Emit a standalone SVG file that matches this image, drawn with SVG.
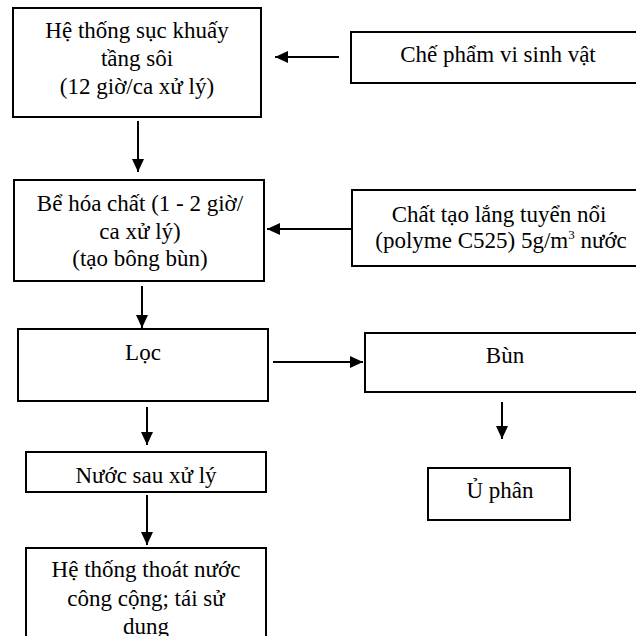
<svg xmlns="http://www.w3.org/2000/svg" width="636" height="636" viewBox="0 0 636 636">
<style>
.box{fill:#fff;stroke:#000;stroke-width:2}
.t{font-family:"Liberation Serif","Times New Roman",serif;font-size:23px;fill:#000;text-anchor:middle}
.c{stroke:#000;stroke-width:2;fill:none}
</style>
<defs>
<marker id="ah" markerUnits="userSpaceOnUse" markerWidth="14" markerHeight="12" refX="13" refY="6" orient="auto">
<path d="M0,0 L13,6 L0,12 Z" fill="#000"/>
</marker>
<clipPath id="clipN"><rect x="26" y="453" width="240" height="35"/></clipPath>
</defs>
<rect width="636" height="636" fill="#fff"/>
<g id="n1">
<rect class="box" x="13" y="8" width="248" height="109"/>
<text class="t" x="137" y="37.5">Hệ thống sục khuấy</text>
<text class="t" x="137" y="65.5">tầng sôi</text>
<text class="t" x="137" y="93.5">(12 giờ/ca xử lý)</text>
</g>
<g id="n2">
<rect class="box" x="351" y="32" width="300" height="51"/>
<text class="t" x="498" y="62">Chế phẩm vi sinh vật</text>
</g>
<g id="n3">
<rect class="box" x="14" y="180" width="250" height="101"/>
<text class="t" x="140" y="210.5">Bể hóa chất (1 - 2 giờ/</text>
<text class="t" x="140" y="238.5">ca xử lý)</text>
<text class="t" x="140" y="266">(tạo bông bùn)</text>
</g>
<g id="n4">
<rect class="box" x="352" y="190" width="300" height="76"/>
<text class="t" x="499" y="221.5">Chất tạo lắng tuyển nổi</text>
<text class="t" x="501" y="247.5">(polyme C525) 5g/m<tspan font-size="13" dy="-9">3</tspan><tspan dy="9"> nước</tspan></text>
</g>
<g id="n5">
<rect class="box" x="18" y="329" width="250" height="72"/>
<text class="t" x="143" y="360">Lọc</text>
</g>
<g id="n6">
<rect class="box" x="365" y="333" width="290" height="59"/>
<text class="t" x="505" y="363">Bùn</text>
</g>
<g id="n7">
<rect class="box" x="428" y="468" width="142" height="52"/>
<text class="t" x="500" y="498">Ủ phân</text>
</g>
<g id="n8">
<rect class="box" x="26" y="452" width="240" height="40"/>
<text class="t" x="146" y="483" clip-path="url(#clipN)">Nước sau xử lý</text>
</g>
<g id="n9">
<rect class="box" x="26" y="548" width="240" height="100"/>
<text class="t" x="146" y="577">Hệ thống thoát nước</text>
<text class="t" x="146" y="606">công cộng; tái sử</text>
<text class="t" x="146" y="634">dung</text>
</g>
<g id="connectors">
<line class="c" x1="339" y1="57" x2="275" y2="57" marker-end="url(#ah)"/>
<line class="c" x1="138" y1="121" x2="138" y2="172" marker-end="url(#ah)"/>
<line class="c" x1="351" y1="229" x2="267" y2="229" marker-end="url(#ah)"/>
<line class="c" x1="142" y1="286" x2="142" y2="328" marker-end="url(#ah)"/>
<line class="c" x1="273" y1="362" x2="363" y2="362" marker-end="url(#ah)"/>
<line class="c" x1="502" y1="402" x2="502" y2="439" marker-end="url(#ah)"/>
<line class="c" x1="147" y1="407" x2="147" y2="445" marker-end="url(#ah)"/>
<line class="c" x1="147" y1="495" x2="147" y2="545" marker-end="url(#ah)"/>
</g>
</svg>
